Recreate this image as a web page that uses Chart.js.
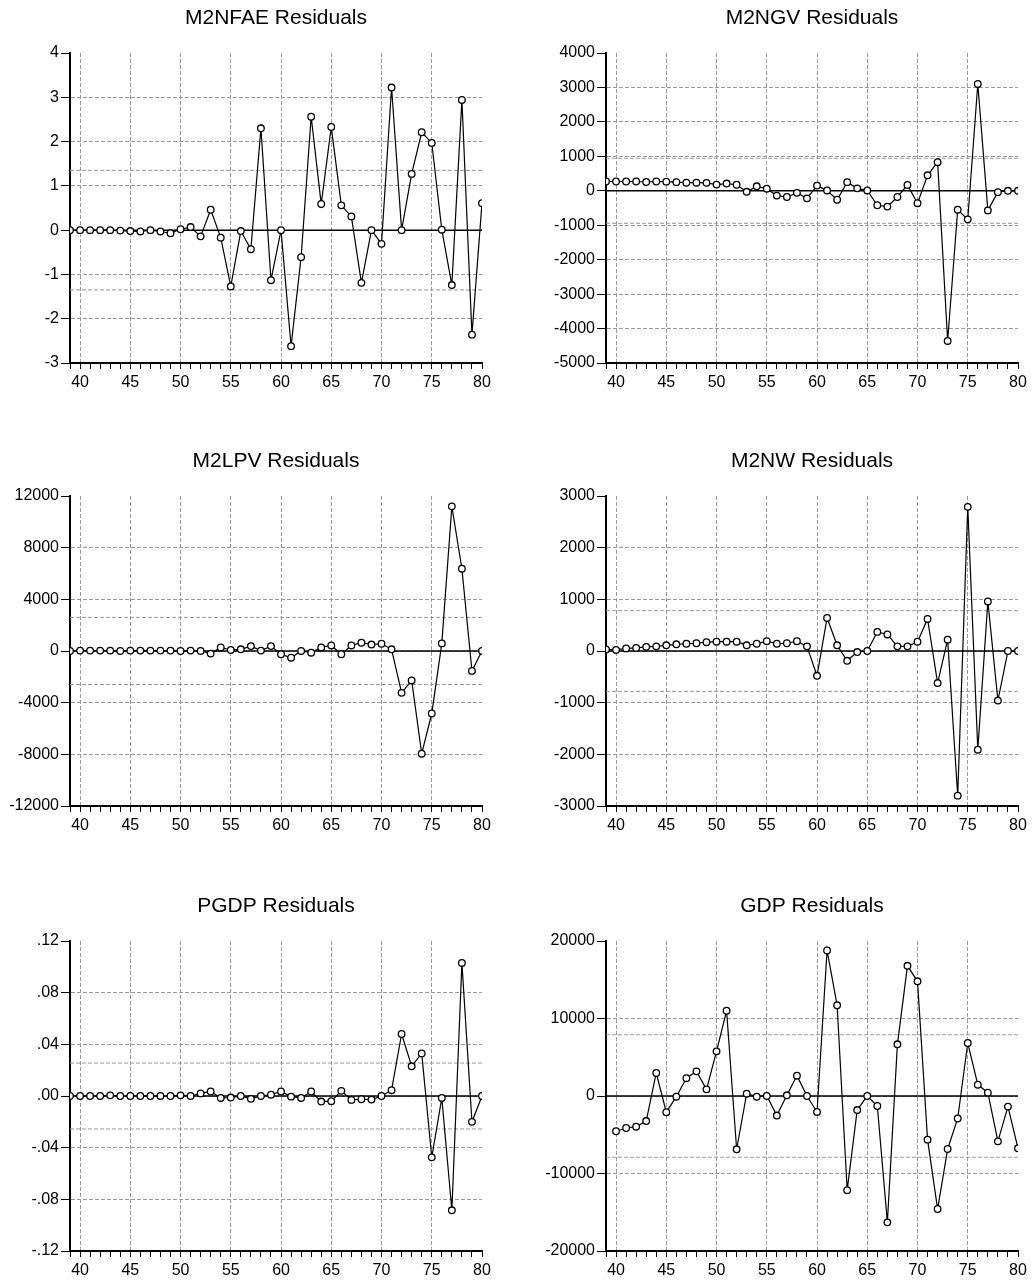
<!DOCTYPE html>
<html lang="en">
<head>
<meta charset="UTF-8">
<title>Residuals</title>
<script src="https://cdn.jsdelivr.net/npm/chart.js"></script>
<style>
  html, body { margin: 0; padding: 0; background: #fff; overflow: hidden; }
  body { width: 1032px; height: 1281px; position: relative; }
  .panel { position: absolute; width: 516px; height: 393px; }
</style>
</head>
<body>
<div class="panel" style="left:0;top:0"><canvas id="c1" width="516" height="393"></canvas></div>
<div class="panel" style="left:516px;top:0"><canvas id="c2" width="516" height="393"></canvas></div>
<div class="panel" style="left:0;top:443px"><canvas id="c3" width="516" height="393"></canvas></div>
<div class="panel" style="left:516px;top:443px"><canvas id="c4" width="516" height="393"></canvas></div>
<div class="panel" style="left:0;top:888px"><canvas id="c5" width="516" height="393"></canvas></div>
<div class="panel" style="left:516px;top:888px"><canvas id="c6" width="516" height="393"></canvas></div>
<script>
// years 1939..1980, shown as two digits
const years = [39, 40, 41, 42, 43, 44, 45, 46, 47, 48, 49, 50, 51, 52, 53, 54, 55, 56, 57, 58, 59,
               60, 61, 62, 63, 64, 65, 66, 67, 68, 69, 70, 71, 72, 73, 74, 75, 76, 77, 78, 79, 80];

const m2nfae = [0, 0, 0, 0, 0, -0.01, -0.02, -0.03, 0, -0.03, -0.07, 0.02, 0.07, -0.14, 0.46, -0.17,
                -1.27, -0.02, -0.43, 2.30, -1.13, 0, -2.62, -0.61, 2.56, 0.59, 2.33, 0.56, 0.31, -1.19,
                0, -0.31, 3.22, 0, 1.27, 2.21, 1.97, 0.01, -1.24, 2.94, -2.36, 0.61];
const m2ngv = [270, 270, 270, 270, 255, 270, 265, 250, 235, 235, 230, 180, 210, 175, -30, 130,
               60, -140, -180, -60, -220, 150, 10, -260, 250, 70, 10, -420, -460, -180, 170, -360,
               450, 830, -4360, -550, -830, 3100, -570, -40, 0, 0];
const m2lpv = [0, 30, 30, 30, 30, 0, 30, 30, 30, 30, 30, 0, 30, 0, -200, 280, 80, 130, 380, 30,
               380, -250, -520, 0, -130, 280, 430, -250, 430, 640, 500, 560, 130, -3240, -2280,
               -7950, -4840, 590, 11200, 6370, -1540, 0];
const m2nw = [30, 20, 50, 60, 80, 90, 110, 130, 140, 150, 170, 180, 180, 180, 110, 140, 190, 140,
              150, 190, 90, -480, 640, 110, -190, -20, 0, 370, 320, 90, 90, 180, 620, -620, 220,
              -2800, 2790, -1910, 960, -960, 0, 0];
const pgdp = [0, 0, 0, 0, 0.0005, 0, 0, 0, 0, 0, 0, 0.0005, 0, 0.002, 0.0035, -0.0015, -0.0012, 0,
              -0.0022, 0, 0.001, 0.0035, -0.0005, -0.0015, 0.0035, -0.0043, -0.004, 0.004, -0.003,
              -0.0025, -0.0028, 0, 0.0045, 0.048, 0.023, 0.033, -0.0475, -0.0015, -0.0885, 0.103,
              -0.020, 0];
const gdp = [null, -4550, -4130, -3960, -3230, 2970, -2090, -90, 2300, 3180, 860, 5760, 11000,
             -6880, 300, -90, 0, -2520, 90, 2620, 0, -2060, 18790, 11700, -12150, -1810, 0, -1290,
             -16300, 6670, 16800, 14800, -5630, -14580, -6840, -2900, 6840, 1460, 430, -5850,
             -1370, -6750];

// +/- one standard error band for each equation
const stdErr = { m2nfae: 1.35, m2ngv: 945, m2lpv: 2600, m2nw: 780, pgdp: 0.0255, gdp: 7900 };

const FONT = "'Liberation Sans', Arial, sans-serif";
const GRID = '#9a9a9a';

function flatLine(y, color, width, dash) {
    return {
        data: [{x: years[0], y: y}, {x: years[years.length - 1], y: y}],
        borderColor: color,
        borderWidth: width,
        borderDash: dash,
        pointRadius: 0,
        fill: false
    };
}

function makeChart(id, title, values, yMin, yMax, yStep, se, left, fmt) {
    const right = left === 70 ? 34 : 14;
    return new Chart(document.getElementById(id), {
        type: 'line',
        data: {
            datasets: [
                {
                    data: years.map((x, i) => ({x: x, y: values[i]})),
                    borderColor: '#000',
                    borderWidth: 1.2,
                    tension: 0,
                    pointRadius: 3.3,
                    pointBackgroundColor: '#fff',
                    pointBorderColor: '#000',
                    pointBorderWidth: 1.3,
                    fill: false
                },
                flatLine(0, '#000', 1.5, []),
                flatLine(se, GRID, 1, [4, 2]),
                flatLine(-se, GRID, 1, [4, 2])
            ]
        },
        options: {
            responsive: false,
            animation: false,
            events: [],
            layout: { padding: { left: 0, right: right, top: 0, bottom: 0 } },
            plugins: {
                legend: { display: false },
                tooltip: { enabled: false },
                title: {
                    display: true,
                    text: title,
                    fullSize: false,
                    color: '#000',
                    font: { family: FONT, size: 21, weight: 'normal' },
                    padding: { top: 6, bottom: 21.8 }
                }
            },
            scales: {
                x: {
                    type: 'linear',
                    min: 39,
                    max: 80,
                    afterFit: s => { s.height = 30; },
                    border: { display: true, color: '#000', width: 2, dash: [4, 2] },
                    grid: {
                        color: c => (c.tick && c.tick.value % 5 === 0 && c.tick.value !== 80) ? GRID : 'rgba(0,0,0,0)',
                        tickColor: '#000',
                        tickLength: 6,
                        lineWidth: 1
                    },
                    ticks: {
                        stepSize: 1,
                        autoSkip: false,
                        maxRotation: 0,
                        padding: 4,
                        color: '#000',
                        font: { family: FONT, size: 16 },
                        callback: v => (v % 5 === 0 ? String(v) : '')
                    }
                },
                y: {
                    min: yMin,
                    max: yMax,
                    afterFit: s => { s.width = left; },
                    border: { display: true, color: '#000', width: 2, dash: [4, 2] },
                    grid: {
                        color: c => (c.tick && (Math.abs(c.tick.value - yMax) < 1e-9 || Math.abs(c.tick.value - yMin) < 1e-9)) ? 'rgba(0,0,0,0)' : GRID,
                        tickColor: '#000',
                        tickLength: 9,
                        lineWidth: 1
                    },
                    ticks: {
                        stepSize: yStep,
                        padding: 2,
                        color: '#000',
                        font: { family: FONT, size: 16 },
                        callback: fmt || (v => String(Math.round(v)))
                    }
                }
            }
        }
    });
}

const dotFmt = v => {
    const s = (Math.round(v * 100) / 100).toFixed(2);
    return s.replace('0.', '.');
};

makeChart('c1', 'M2NFAE Residuals', m2nfae, -3, 4, 1, stdErr.m2nfae, 70);
makeChart('c2', 'M2NGV Residuals', m2ngv, -5000, 4000, 1000, stdErr.m2ngv, 90);
makeChart('c3', 'M2LPV Residuals', m2lpv, -12000, 12000, 4000, stdErr.m2lpv, 70);
makeChart('c4', 'M2NW Residuals', m2nw, -3000, 3000, 1000, stdErr.m2nw, 90);
makeChart('c5', 'PGDP Residuals', pgdp, -0.12, 0.12, 0.04, stdErr.pgdp, 70, dotFmt);
makeChart('c6', 'GDP Residuals', gdp, -20000, 20000, 10000, stdErr.gdp, 90);
</script>
</body>
</html>
